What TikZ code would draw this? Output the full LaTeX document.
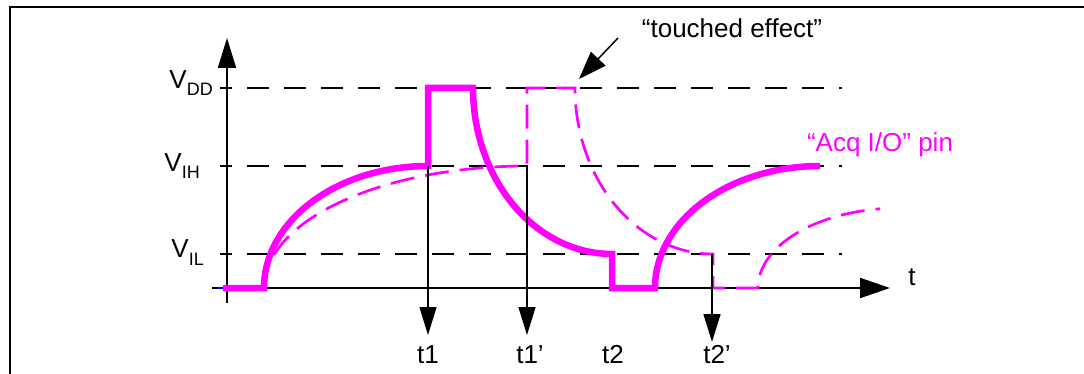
\documentclass[tikz,border=0pt]{standalone}
\usepackage{fontspec}
\setmainfont{Liberation Sans}
\usetikzlibrary{arrows.meta}
\definecolor{mag}{RGB}{255,0,255}
\definecolor{axblue}{RGB}{0,0,255}
\begin{document}
\begin{tikzpicture}[x=1pt,y=-1pt,
  lbl/.style={font=\fontsize{26}{30}\selectfont, inner sep=0pt},
  axisline/.style={line width=2pt, -{Triangle[length=30pt,width=18pt]}},
  tarrow/.style={line width=1.6pt, -{Triangle[length=28pt,width=17pt]}},
  levelline/.style={line width=2pt, dash pattern=on 22pt off 15pt, dash phase=10pt},
  sig/.style={mag, line width=6.5pt, line join=miter},
  sigd/.style={mag, line width=2.7pt, dash pattern=on 24pt off 11pt},
]
\useasboundingbox (0,0) rectangle (1084,374);
\clip (0,0) rectangle (1084,374);
% frame
\draw[line width=2.5pt] (10,390) -- (10,7) -- (1100,7);
% axes
\coordinate (yb) at (227,303);
\coordinate (yt) at (227,38);
\coordinate (xl) at (212,288);
\coordinate (xr) at (890,288);
\draw[axisline] (yb) -- (yt);
\draw[line width=2pt, -{Triangle[length=30pt,width=20pt]}] (xl) -- (xr);
\node[lbl, anchor=base] (tlab) at (912,285) {t};
% levels
\draw[levelline] (220,88) -- (842,88);
\draw[levelline] (220,166) -- (842,166);
\draw[levelline] (220,254) -- (842,254);
\node[lbl, anchor=base east] (vdd) at (213,89) {V\raisebox{-7pt}{\fontsize{18}{20}\selectfont DD}};
\node[lbl, anchor=base east] (vih) at (200,172) {V\raisebox{-6pt}{\fontsize{18}{20}\selectfont IH}};
\node[lbl, anchor=base east] (vil) at (204,258) {V\raisebox{-7pt}{\fontsize{18}{20}\selectfont IL}};
% small blue mark
\draw[axblue, line width=1.5pt] (217,288) -- (229,288);
% dashed "touched" signal
\draw[sigd] (264,288) -- plot[domain=180:90,samples=60] ({527+263*cos(\x)},{288-122*sin(\x)})
  -- (527,88) -- (575,88)
  -- plot[domain=180:270,samples=50] ({713+138*cos(\x)},{88-166*sin(\x)})
  -- (713,288) -- (758,288)
  -- plot[domain=180:98,samples=40] ({900+142*cos(\x)},{288-80*sin(\x)});
% solid signal
\draw[sig] (223,288) -- (264,288)
  -- plot[domain=180:90,samples=60] ({428+164*cos(\x)},{288-122*sin(\x)})
  -- (428,88) -- (473,88)
  -- plot[domain=180:270,samples=50] ({612+139*cos(\x)},{88-166*sin(\x)})
  -- (612,288) -- (655,288)
  -- plot[domain=180:90,samples=60] ({820+165*cos(\x)},{288-122*sin(\x)});
% time markers
\coordinate (t1s) at (428,166);
\coordinate (t1e) at (428,335);
\coordinate (t1ps) at (527,166);
\coordinate (t1pe) at (527,335);
\coordinate (t2ps) at (712,254);
\coordinate (t2pe) at (712,342);
\draw[tarrow] (t1s) -- (t1e);
\draw[tarrow] (t1ps) -- (t1pe);
\draw[tarrow] (t2ps) -- (t2pe);
\node[lbl, anchor=base] (t1) at (428,363) {t1};
\node[lbl, anchor=base] (t1p) at (530,363) {t1’};
\node[lbl, anchor=base] (t2) at (613,363) {t2};
\node[lbl, anchor=base] (t2p) at (717,363) {t2’};
% annotations
\node[lbl, anchor=base] (touched) at (732,38) {“touched effect”};
\coordinate (tes) at (618,38);
\coordinate (tee) at (579,79);
\draw[line width=1.5pt, -{Triangle[length=28pt,width=20pt]}] (tes) -- (tee);
\node[lbl, anchor=base, text=mag] (acq) at (880,152) {“Acq I/O” pin};
\end{tikzpicture}
\end{document}
